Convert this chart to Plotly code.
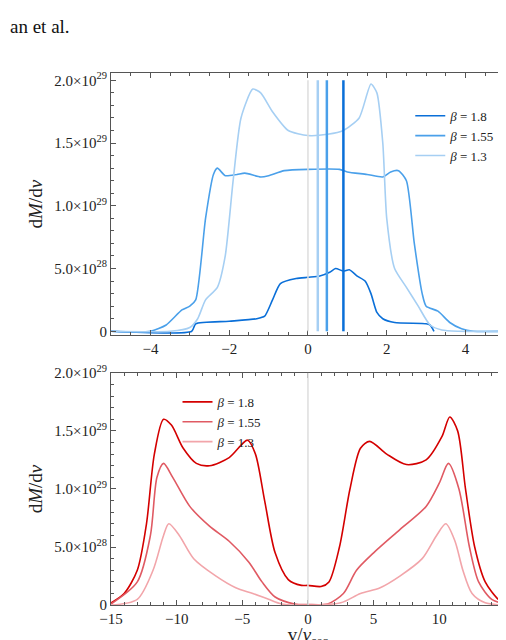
import plotly.graph_objects as go

# top panel (units of 1e29)
t18_x = [-5, -2.95, -2.85, -2.0, -1.3, -1.1, -0.9, -0.7, -0.3, 0, 0.3, 0.55, 0.7, 0.9, 1.05, 1.25, 1.45, 1.6, 1.75, 1.9, 2.2, 3.0, 3.1, 3.2]
t18_y = [0, 0, 0.06, 0.08, 0.1, 0.12, 0.25, 0.38, 0.42, 0.43, 0.44, 0.47, 0.5, 0.48, 0.49, 0.44, 0.4, 0.3, 0.15, 0.1, 0.07, 0.06, 0.05, 0]
t155_x = [-5, -4.0, -3.6, -3.2, -3.0, -2.85, -2.6, -2.4, -2.3, -2.1, -1.8, -1.6, -1.2, -1.0, -0.6, 0, 0.8, 1.0, 1.5, 1.9, 2.1, 2.3, 2.5, 2.7, 2.9, 3.0, 3.3, 3.6, 3.9, 4.2, 5]
t155_y = [0, 0, 0.05, 0.17, 0.2, 0.25, 0.9, 1.25, 1.3, 1.24, 1.25, 1.26, 1.23, 1.24, 1.28, 1.29, 1.29, 1.27, 1.25, 1.23, 1.27, 1.28, 1.2, 0.7, 0.3, 0.2, 0.16, 0.07, 0.02, 0, 0]
t13_x = [-5, -3.5, -3.0, -2.8, -2.6, -2.3, -2.1, -1.9, -1.7, -1.4, -1.2, -0.9, -0.5, 0, 0.5, 0.9, 1.3, 1.6, 1.75, 1.9, 2.0, 2.2, 2.5, 2.8, 3.1, 3.4, 3.8, 5]
t13_y = [0, 0, 0.03, 0.1, 0.25, 0.35, 0.6, 1.2, 1.7, 1.93, 1.9, 1.75, 1.6, 1.56, 1.57, 1.6, 1.7, 1.97, 1.9, 1.5, 0.9, 0.5, 0.35, 0.2, 0.05, 0.01, 0, 0]
vlines_x = [0.25, 0.48, 0.9]

# bottom panel
b18_x = [-15, -14, -13, -12.3, -11.7, -11, -10.4, -9.5, -8.5, -7.5, -6, -4.6, -4, -3.3, -2.5, -1.5, -0.5, 0, 1.0, 1.6, 2.4, 3.2, 4, 4.7, 6, 7.5, 9, 10.2, 10.8, 11.4, 12, 12.7, 13.5, 14.5, 15]
b18_y = [0.02, 0.1, 0.3, 0.7, 1.3, 1.6, 1.55, 1.35, 1.22, 1.2, 1.27, 1.42, 1.3, 0.9, 0.45, 0.22, 0.17, 0.17, 0.16, 0.2, 0.5, 1.0, 1.35, 1.41, 1.3, 1.21, 1.25, 1.45, 1.62, 1.5, 1.0, 0.5, 0.2, 0.05, 0.02]
b155_x = [-15, -13, -12, -11.5, -11, -10.3, -9, -7.5, -6, -4.5, -3.5, -2.5, -1, 0, 1.5, 2.7, 3.7, 5, 7, 9, 10, 10.7, 11.5, 12.3, 13, 14, 15]
b155_y = [0.01, 0.2, 0.6, 1.1, 1.22, 1.1, 0.85, 0.68, 0.55, 0.37, 0.2, 0.07, 0.01, 0.005, 0.01, 0.1, 0.3, 0.45, 0.65, 0.85, 1.05, 1.22, 1.0, 0.5, 0.2, 0.05, 0.01]
b13_x = [-15, -13, -11.8, -11, -10.6, -9.8, -8.7, -7, -5.5, -4.2, -3, -2, 0, 2.5, 4, 5.5, 7, 8.7, 9.8, 10.5, 11.2, 11.8, 12.5, 13.5, 15]
b13_y = [0, 0.05, 0.3, 0.6, 0.7, 0.6, 0.4, 0.25, 0.15, 0.1, 0.05, 0.01, 0, 0.02, 0.1, 0.15, 0.25, 0.4, 0.6, 0.7, 0.55, 0.3, 0.1, 0.02, 0]

names = ["<i>β</i> = 1.8", "<i>β</i> = 1.55", "<i>β</i> = 1.3"]
blues = ["#0a6fd8", "#4aa0ea", "#a6cff3"]
reds = ["#d40000", "#e05a63", "#f2a5aa"]
ytick_vals = [0, 0.5, 1.0, 1.5, 2.0]
ytick_text = ["0", "5.0×10<sup>28</sup>", "1.0×10<sup>29</sup>", "1.5×10<sup>29</sup>", "2.0×10<sup>29</sup>"]

fig = go.Figure()
for i, (xs, ys) in enumerate([(t18_x, t18_y), (t155_x, t155_y), (t13_x, t13_y)]):
    fig.add_trace(go.Scatter(x=xs, y=ys, mode="lines", name=names[i], line=dict(color=blues[i], width=1.6, shape="spline", smoothing=0.6), xaxis="x", yaxis="y", legend="legend"))
for i, (xs, ys) in enumerate([(b18_x, b18_y), (b155_x, b155_y), (b13_x, b13_y)]):
    fig.add_trace(go.Scatter(x=xs, y=ys, mode="lines", name=names[i], line=dict(color=reds[i], width=1.6, shape="spline", smoothing=0.8), xaxis="x2", yaxis="y2", legend="legend2"))

shapes = [dict(type="line", xref="x", yref="y", x0=0, x1=0, y0=0, y1=2.0, line=dict(color="#dddddd", width=1.5)),
          dict(type="line", xref="x2", yref="y2", x0=0, x1=0, y0=0, y1=2.0, line=dict(color="#dddddd", width=1.5))]
for vx, c in zip(vlines_x, blues[::-1]):
    shapes.append(dict(type="line", xref="x", yref="y", x0=vx, x1=vx, y0=0, y1=2.0, line=dict(color=c, width=2.5)))

ax = dict(showgrid=False, zeroline=False, showline=True, linecolor="#555", linewidth=1, mirror="ticks", automargin=False,
          ticks="inside", ticklen=5, tickcolor="#555", tickfont=dict(size=15, color="#222"))
font = dict(family="Liberation Serif", size=15, color="#222")
fig.update_layout(
    width=506, height=640, margin=dict(l=0, r=0, t=0, b=0, autoexpand=False), paper_bgcolor="white", plot_bgcolor="white", font=font,
    shapes=shapes,
    xaxis=dict(ax, domain=[0.2036, 0.982], range=[-5, 5], tickvals=[-4, -2, 0, 2, 4], ticktext=["−4", "−2", "0", "2", "4"], anchor="y", minor=dict(ticks="inside", ticklen=3, dtick=0.5, tickcolor="#555")),
    yaxis=dict(ax, domain=[0.489, 0.898], range=[-0.03, 2.056], tickvals=ytick_vals, ticktext=ytick_text, anchor="x",
               title=dict(text="d<i>M</i>/d<i>v</i>", font=dict(size=19), standoff=6), minor=dict(ticks="inside", ticklen=3, dtick=0.1, tickcolor="#555")),
    xaxis2=dict(ax, domain=[0.2036, 0.982], range=[-15, 15], tickvals=[-15, -10, -5, 0, 5, 10, 15], ticktext=["−15", "−10", "−5", "0", "5", "10", "15"], anchor="y2",
                title=dict(text="v/<i>v</i><sub>esc</sub>", font=dict(size=19), standoff=4), minor=dict(ticks="inside", ticklen=3, dtick=1, tickcolor="#555")),
    yaxis2=dict(ax, domain=[0.067, 0.430], range=[0, 2.0], tickvals=ytick_vals, ticktext=ytick_text, anchor="x2",
                title=dict(text="d<i>M</i>/d<i>v</i>", font=dict(size=19), standoff=6), minor=dict(ticks="inside", ticklen=3, dtick=0.1, tickcolor="#555")),
    legend=dict(x=0.795, y=0.855, xanchor="left", yanchor="top", bgcolor="rgba(0,0,0,0)", font=dict(size=13), tracegroupgap=0),
    legend2=dict(x=0.335, y=0.408, xanchor="left", yanchor="top", bgcolor="rgba(0,0,0,0)", font=dict(size=13), tracegroupgap=0),
    annotations=[dict(text="an et al.", x=0.0, y=0.99, xref="paper", yref="paper", xanchor="left", yanchor="top", showarrow=False, font=dict(size=19, color="#111"))],
)
fig.write_html("out.html")
